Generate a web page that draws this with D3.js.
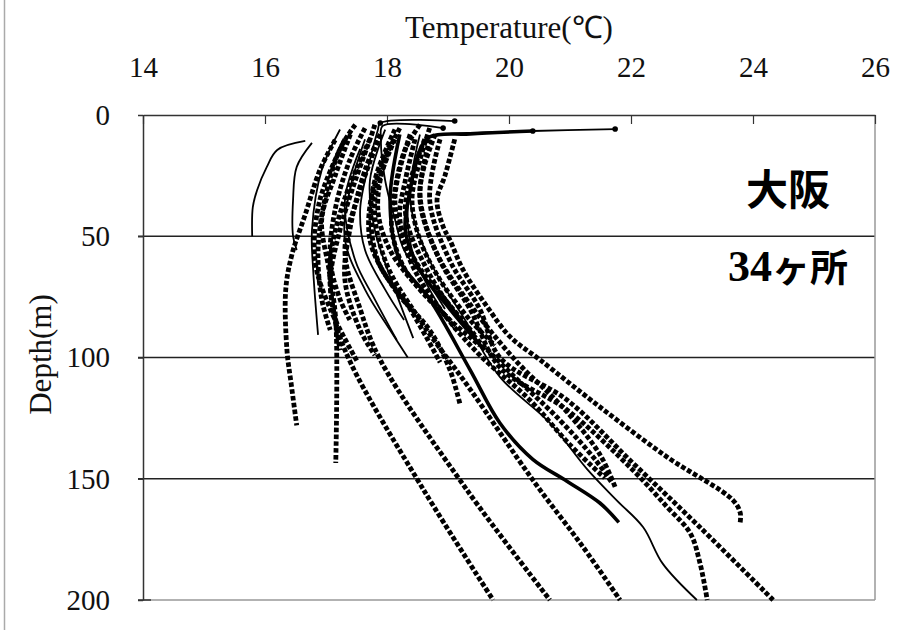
<!DOCTYPE html>
<html><head><meta charset="utf-8">
<script src="https://cdn.jsdelivr.net/npm/d3@7/dist/d3.min.js"></script>
<style>
html,body{margin:0;padding:0;background:#fff;}
svg{display:block;}
</style>
</head><body>
<svg id="chart" width="901" height="630"></svg>
<script>
// ---- data: temperature (°C) vs depth (m) profiles, 34 stations ----
const tempTicks = [14, 16, 18, 20, 22, 24, 26];
const depthTicks = [0, 50, 100, 150, 200];
const xTitle = "Temperature(℃)";
const yTitle = "Depth(m)";
const areaLabel = "大阪";
const countNum = "34";
const countUnit = "ヶ所";

const p01 = [[16.66,10.7],[16.2,14.4],[16.03,21.4],[15.87,31],[15.8,38],[15.79,50]];
const p02 = [[16.77,11.5],[16.52,21.4],[16.46,35],[16.46,50],[16.52,55.7]];
const p03 = [[17.15,10.3],[16.9,22.7],[16.66,41],[16.44,57.7],[16.34,72],[16.36,97],[16.43,111],[16.52,128]];
const p04 = [[17.4,8],[17.15,25],[16.93,43],[17.05,64],[17.16,84.5],[17.16,143.5]];
const p05 = [[17.23,6],[16.93,22.7],[16.77,47.4],[16.79,64],[16.87,90.7]];
const p06 = [[17.72,10],[17.3,35],[17.07,60],[17.15,84.5],[17.4,102],[18.6,154.6],[19.74,200]];
const p07 = [[17.89,8],[17.56,31],[17.31,55.7],[17.56,80],[17.89,101],[19.31,154.6],[20.67,200]];
const p08 = [[18.13,10],[17.8,35],[17.97,60],[18.54,84.5],[19.36,113],[20.39,150.5],[21.21,178],[21.82,200]];
const p09 = [[18.21,8],[18.05,35],[18.21,60],[18.7,76],[19.36,105],[19.85,127],[20.39,142],[20.95,151],[21.49,160],[21.8,168]];
const p10 = [[18.54,8],[18.38,35],[18.7,60],[19.28,84.5],[19.85,108],[20.67,127],[21.28,146],[21.77,159],[22.2,170],[22.52,185],[23.08,200]];
const p11 = [[18.7,10],[18.54,35],[18.87,60],[19.36,80],[19.85,104],[20.95,121.6],[22.03,146.4],[22.59,161.6],[22.97,172.4],[23.13,184.7],[23.25,200]];
const p12 = [[18.87,10],[18.7,35],[19.03,60],[19.52,80],[19.85,100],[20.95,117.5],[22.03,143.5],[23.13,170],[24.33,200]];
const p13 = [[19.11,10],[18.95,25],[18.82,35],[18.92,46],[19.03,51.5],[19.25,64],[19.64,79],[20.02,91.5],[20.51,101],[21.49,120.4],[22.59,141],[23.67,158.8],[23.79,164],[23.79,168]];
const p14 = [[18.38,8],[18.13,35],[18.38,60],[18.87,80],[19.52,99],[20.34,117.5],[21.0,136],[21.57,149.7]];
const p15 = [[18.62,10],[18.3,39],[18.62,62],[19.2,84.5],[19.93,104],[20.84,126],[21.41,142],[21.69,151.7]];
const p16 = [[18.79,8],[18.54,31],[18.79,55.7],[19.36,78],[20.1,101],[20.92,121.6],[21.49,140],[21.74,153.4]];
const p17 = [[18.13,6],[17.8,27],[17.72,51.5],[18.13,72],[18.7,88.7],[19.03,105],[19.2,119.6]];
const p18 = [[17.64,10],[17.39,31],[17.31,51.5],[17.64,72],[18.05,88.7],[18.34,100]];
const p19 = [[17.97,6],[17.72,27],[17.8,47.4],[18.13,72],[18.43,92]];
const p20 = [[17.31,10],[16.9,35],[16.82,60],[17.07,80],[17.52,102]];
const p21 = [[17.56,14],[17.31,35],[17.48,60],[17.8,76],[18.16,92.8]];
const p22 = [[18.05,12],[17.75,35],[17.85,60],[18.38,80],[18.87,102]];
const p23 = [[17.8,4],[17.75,8],[17.48,27],[17.23,47.4],[17.07,68],[17.15,84.5],[17.23,97]];
const p24 = [[17.48,4],[17.23,14],[16.98,35],[16.87,55.7],[16.93,76],[17.07,88.7]];
const p25 = [[17.64,5.4],[17.39,18.6],[17.15,39],[17.07,60],[17.23,76],[17.39,84.5]];
const p26 = [[17.89,8],[17.64,22.7],[17.39,47.4],[17.31,68],[17.56,88.7],[17.8,99]];
const p27 = [[18.21,5.4],[17.97,18.6],[17.85,39],[18.05,55.7],[18.54,72],[19.03,84.5],[19.52,95]];
const p28 = [[18.46,10],[18.3,27],[18.21,43],[18.46,60],[18.95,76],[19.44,90.7]];
const p29 = [[18.7,5.4],[18.54,18.6],[18.41,35],[18.54,51.5],[18.87,68],[19.36,84.5],[19.77,95]];
const p30 = [[18.54,4],[18.3,14],[18.13,31],[18.08,47.4],[18.3,64],[18.7,76],[19.03,84.5]];
const p31 = [[21.74,5.8],[20.39,6.6],[19.31,7.4],[18.87,8.2],[18.62,10.3],[18.46,22.7],[18.34,39],[18.41,55.7],[18.7,72],[19.11,88.7]];
const p32 = [[20.39,6.6],[19.36,7.8],[18.7,9],[18.54,14.4],[18.38,31],[18.3,47.4],[18.54,64],[19.03,80],[19.6,97]];
const p33 = [[19.11,2.5],[17.89,3.3],[17.85,6.2],[17.72,18.6],[17.56,39],[17.64,55.7],[17.97,72],[18.28,84.5]];
const p34 = [[18.92,5.4],[17.93,4.5],[17.9,10],[17.97,27],[18.13,43],[18.28,55.7],[18.7,70],[18.95,80]];

const profiles = [p01,p02,p03,p04,p05,p06,p07,p08,p09,p10,p11,p12,p13,p14,p15,p16,p17,
                  p18,p19,p20,p21,p22,p23,p24,p25,p26,p27,p28,p29,p30,p31,p32,p33,p34];
// which profiles are drawn as plain thin lines / heavy lines (the rest are marker series)
const thinSeries = [0,1,4,9,17,18,20,30,32,33];
const heavySeries = [8,31];

// ---- drawing ----
const svg = d3.select("#chart");
const W = 901, H = 630;
const mL = 143, mR = 875, mT = 115, mB = 600;
const x = d3.scaleLinear().domain([14, 26]).range([mL, mR]);
const y = d3.scaleLinear().domain([0, 200]).range([mT, mB]);
const serif = "'Liberation Serif','Times New Roman',serif";

svg.append("rect").attr("width", W).attr("height", H).attr("fill", "#fff");
// outer image frame
svg.append("line").attr("x1",4.5).attr("x2",4.5).attr("y1",0).attr("y2",H).attr("stroke","#aaa").attr("stroke-width",1.5);

// gridlines
svg.append("g").selectAll("line").data(depthTicks.filter(d => d > 0 && d < 200)).join("line")
  .attr("x1", mL - 5).attr("x2", mR).attr("y1", d => y(d)).attr("y2", d => y(d))
  .attr("stroke", "#222").attr("stroke-width", 1.5);
// bottom and right frame (lighter)
svg.append("line").attr("x1", mL).attr("x2", mR).attr("y1", y(200)).attr("y2", y(200))
  .attr("stroke", "#999").attr("stroke-width", 1.5);
svg.append("line").attr("x1", mL - 5).attr("x2", mL + 8).attr("y1", y(200)).attr("y2", y(200))
  .attr("stroke", "#333").attr("stroke-width", 1.5);
svg.append("line").attr("x1", mR).attr("x2", mR).attr("y1", mT).attr("y2", mB)
  .attr("stroke", "#999").attr("stroke-width", 1.5);

// axes
const xAxis = d3.axisTop(x).tickValues(tempTicks).tickFormat(d3.format("d"))
  .tickSizeInner(-9).tickSizeOuter(0).tickPadding(38);
const gx = svg.append("g").attr("transform", `translate(0,${mT})`).call(xAxis);
gx.select(".domain").attr("stroke", "#333").attr("stroke-width", 1.5);
gx.selectAll(".tick line").attr("stroke", "#333").attr("stroke-width", 1.2);
gx.selectAll(".tick text").attr("font-family", serif).attr("font-size", 29).attr("fill", "#111");

const yAxis = d3.axisLeft(y).tickValues(depthTicks).tickFormat(d3.format("d"))
  .tickSizeInner(5).tickSizeOuter(0).tickPadding(28);
const gy = svg.append("g").attr("transform", `translate(${mL},0)`).call(yAxis);
gy.select(".domain").attr("stroke", "#333").attr("stroke-width", 1.5);
gy.selectAll(".tick line").attr("stroke", "#333").attr("stroke-width", 1.5);
gy.selectAll(".tick text").attr("font-family", serif).attr("font-size", 29).attr("fill", "#111");

// titles
svg.append("text").attr("x", (mL + mR) / 2).attr("y", 38).attr("text-anchor", "middle")
  .attr("font-family", serif).attr("font-size", 31).attr("fill", "#111").text(xTitle);
svg.append("text").attr("transform", `translate(51,${(mT + mB) / 2 - 3}) rotate(-90)`)
  .attr("text-anchor", "middle").attr("font-family", serif).attr("font-size", 31).attr("fill", "#111").text(yTitle);

// profiles
const line = d3.line().x(d => x(d[0])).y(d => y(d[1])).curve(d3.curveCatmullRom.alpha(0.5));
const gp = svg.append("g");
profiles.forEach((p, i) => {
  const path = gp.append("path").attr("d", line(p)).attr("fill", "none").attr("stroke", "#000");
  if (thinSeries.includes(i)) {
    path.attr("stroke-width", 1.8);
  } else if (heavySeries.includes(i)) {
    path.attr("stroke-width", 3.6);
  } else {
    path.attr("stroke-width", 4.8).attr("stroke-dasharray", "4.6 2.2");
  }
});
// small end markers of the surface spikes
gp.selectAll("circle").data([p31[0], p31[1], p33[0], p33[1], p34[0]]).join("circle")
  .attr("cx", d => x(d[0])).attr("cy", d => y(d[1])).attr("r", 2.8).attr("fill", "#000");

// labels
svg.append("text").attr("x", 788).attr("y", 205).attr("text-anchor", "middle")
  .attr("font-family", "'Noto Sans CJK JP'").attr("font-weight", "bold").attr("font-size", 42)
  .attr("fill", "#000").text(areaLabel);
const cnt = svg.append("text").attr("x", 788).attr("y", 281).attr("text-anchor", "middle").attr("fill", "#000");
cnt.append("tspan").attr("font-family", serif).attr("font-weight", "bold").attr("font-size", 44).text(countNum);
cnt.append("tspan").attr("font-family", "'Noto Sans CJK JP'").attr("font-weight", "bold").attr("font-size", 38).text(countUnit);
</script>
</body></html>
